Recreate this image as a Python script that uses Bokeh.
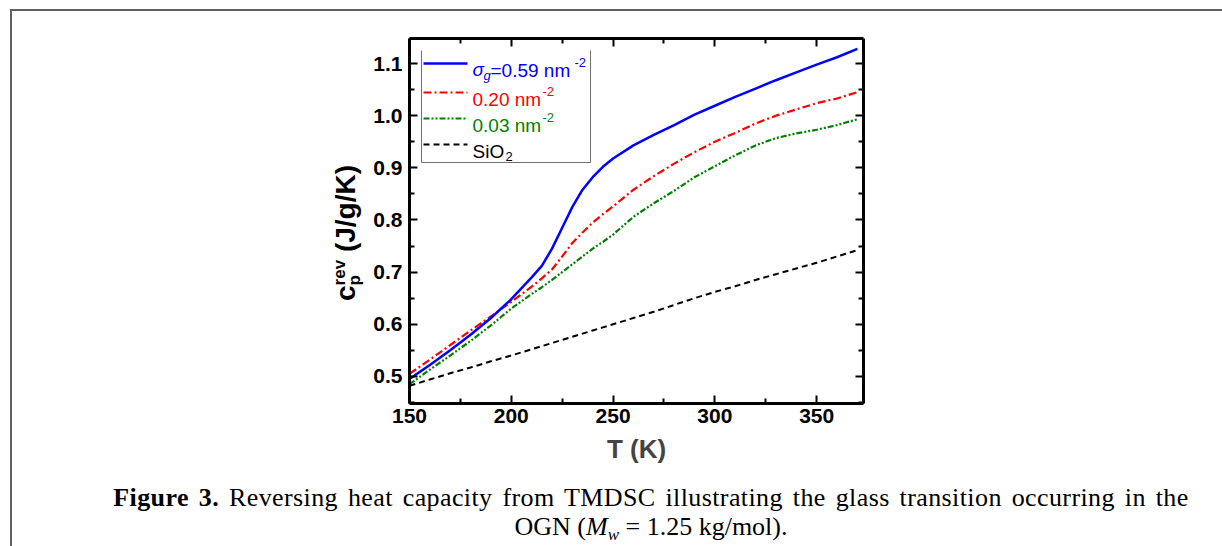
import math
from bokeh.plotting import figure
from bokeh.layouts import column, row
from bokeh.models import (Range1d, LinearAxis, Label, FixedTicker, Div,
                          PrintfTickFormatter)
from bokeh.embed import file_html
from bokeh.resources import INLINE

# ---------------- data ----------------
T = [150, 160, 170, 180, 190, 200, 210, 215, 220, 225, 230, 235, 240, 245, 250,
     260, 270, 280, 290, 300, 310, 320, 330, 340, 350, 360, 370]
cp_059 = [0.495, 0.522, 0.550, 0.580, 0.612, 0.648, 0.690, 0.712, 0.745, 0.785, 0.825,
          0.858, 0.882, 0.902, 0.918, 0.943, 0.963, 0.982, 1.002, 1.019, 1.036, 1.052,
          1.068, 1.083, 1.098, 1.112, 1.128]
cp_020 = [0.505, 0.532, 0.560, 0.588, 0.615, 0.643, 0.672, 0.688, 0.705, 0.730, 0.756,
          0.776, 0.795, 0.811, 0.826, 0.858, 0.884, 0.908, 0.930, 0.950, 0.967, 0.985,
          1.000, 1.012, 1.024, 1.033, 1.045]
cp_003 = [0.485, 0.513, 0.540, 0.568, 0.598, 0.630, 0.658, 0.671, 0.685, 0.700, 0.715,
          0.730, 0.745, 0.758, 0.772, 0.806, 0.832, 0.856, 0.882, 0.903, 0.924, 0.943,
          0.957, 0.966, 0.973, 0.982, 0.993]
cp_sio2 = [0.482, 0.494, 0.506, 0.517, 0.529, 0.540, 0.552, 0.558, 0.564, 0.570, 0.576,
           0.582, 0.588, 0.594, 0.600, 0.612, 0.624, 0.637, 0.650, 0.662, 0.673, 0.685,
           0.696, 0.707, 0.718, 0.730, 0.742]

x_ticks = [150, 200, 250, 300, 350]
x_minor = [175, 225, 275, 325, 375]
y_ticks = [0.5, 0.6, 0.7, 0.8, 0.9, 1.0, 1.1]
y_minor = [0.45, 0.55, 0.65, 0.75, 0.85, 0.95, 1.05, 1.15]

# ---------------- page geometry (pixels) ----------------
W, H = 1222, 546
LEFT_W = 366          # width of the left strip (y-axis title)
TOP_H = 20            # strip above the figure (page border line)
PLOT_H = 462          # figure height
CAP_H = H - TOP_H - PLOT_H
FL, FR, FT, FB = 409, 863, 38, 403   # frame edges in page pixels
X0, X1 = 150, 373
Y0, Y1 = 0.448, 1.148
BORDER = "2px solid #5f5f5f"


def dx(px):
    return X0 + (px - FL) / (FR - FL) * (X1 - X0)


def dy(py):
    return Y0 + (FB - py) / (FB - FT) * (Y1 - Y0)


p = figure(width=W - LEFT_W, height=PLOT_H, x_range=Range1d(X0, X1),
           y_range=Range1d(Y0, Y1), output_backend="svg", toolbar_location=None,
           min_border_left=FL - LEFT_W, min_border_right=W - FR,
           min_border_top=FT - TOP_H, min_border_bottom=TOP_H + PLOT_H - FB,
           margin=0)
p.grid.visible = False
p.outline_line_color = None
p.background_fill_color = "white"
p.border_fill_color = "white"

top_ax = LinearAxis()
right_ax = LinearAxis()
p.add_layout(top_ax, "above")
p.add_layout(right_ax, "right")
bottom_ax = p.below[0]
left_ax = p.left[0]

for ax in (bottom_ax, top_ax):
    ax.ticker = FixedTicker(ticks=x_ticks, minor_ticks=x_minor)
for ax in (left_ax, right_ax):
    ax.ticker = FixedTicker(ticks=y_ticks, minor_ticks=y_minor)
    ax.formatter = PrintfTickFormatter(format="%.1f")

for ax in (bottom_ax, top_ax, left_ax, right_ax):
    ax.axis_line_width = 3
    ax.axis_line_color = "black"
    ax.major_tick_in = 8
    ax.major_tick_out = 0
    ax.minor_tick_in = 5
    ax.minor_tick_out = 0
    ax.major_tick_line_width = 2
    ax.minor_tick_line_width = 2
    ax.major_label_text_font = "Liberation Sans"
    ax.major_label_text_font_style = "bold"
    ax.major_label_text_font_size = "21px"
    ax.major_label_text_color = "black"

bottom_ax.major_label_standoff = 5
left_ax.major_label_standoff = 7
bottom_ax.axis_label = "T (K)"
bottom_ax.axis_label_text_font = "Liberation Sans"
bottom_ax.axis_label_text_font_style = "bold"
bottom_ax.axis_label_text_font_size = "26px"
bottom_ax.axis_label_standoff = 8
for ax in (top_ax, right_ax):
    ax.major_label_text_alpha = 0
    ax.major_label_text_font_size = "2px"
    ax.major_label_standoff = 0

# ---------------- curves ----------------
p.line(T, cp_sio2, line_color="black", line_width=2, line_dash="6 4")
p.line(T, cp_003, line_color="#008000", line_width=2.2, line_dash="6 2 2 2 2 2")
p.line(T, cp_020, line_color="#ff0000", line_width=2.2, line_dash="8 3 2 3")
p.line(T, cp_059, line_color="#0000ff", line_width=2.5)

# ---------------- legend (drawn by hand) ----------------
p.line([dx(421), dx(421), dx(590), dx(590)], [dy(50), dy(162), dy(162), dy(50)],
       line_color="#707070", line_width=1)
leg = [("#0000ff", None, 2.5, 63), ("#ff0000", "8 3 2 3", 2.2, 92),
       ("#008000", "6 2 2 2 2 2", 2.2, 118), ("black", "6 4", 2, 144)]
for col, dash, lw, py in leg:
    kw = dict(line_color=col, line_width=lw)
    if dash:
        kw["line_dash"] = dash
    p.line([dx(423), dx(467)], [dy(py), dy(py)], **kw)


def lab(text, px, py, size, color="black", font="Liberation Sans", style="normal",
        align="left", baseline="alphabetic"):
    p.add_layout(Label(x=dx(px), y=dy(py), text=text, text_font=font,
                       text_font_size=f"{size}px", text_font_style=style,
                       text_color=color, text_align=align, text_baseline=baseline))


LS = 19
lab("σ", 472, 69, LS, "#0000ff", style="italic")
lab("g", 483, 75, 13, "#0000ff", style="italic")
lab("=0.59 nm", 490, 70, LS, "#0000ff")
lab("-2", 574, 62, 13, "#0000ff")
lab("0.20 nm", 472, 99, LS, "#ff0000")
lab("-2", 542, 91, 13, "#ff0000")
lab("0.03 nm", 472, 125, LS, "#008000")
lab("-2", 542, 117, 13, "#008000")
lab("SiO", 472, 151, LS, "black")
lab("2", 505, 156, 13, "black")

# ---------------- HTML strips: y title, page border, caption ----------------
left_html = f"""
<div style="position:relative;width:{LEFT_W}px;height:{TOP_H + PLOT_H}px;">
 <div style="position:absolute;left:10px;top:9px;width:{LEFT_W}px;height:0;border-top:{BORDER};"></div>
 <div style="position:absolute;left:10px;top:9px;width:0;height:{TOP_H + PLOT_H}px;border-left:{BORDER};"></div>
 <div style="position:absolute;left:330px;top:301px;transform-origin:0 0;transform:rotate(-90deg);
      white-space:nowrap;font-family:'Liberation Sans';font-weight:bold;font-size:28px;
      line-height:32px;color:black;">c<span style="display:inline-block;vertical-align:-5px;
      font-size:17px;line-height:15px;text-align:left;">rev<br>p</span> (J/g/K)</div>
</div>"""
left_div = Div(text=left_html, width=LEFT_W, height=TOP_H + PLOT_H, margin=0)

top_html = f"""
<div style="position:relative;width:{W - LEFT_W}px;height:{TOP_H}px;">
 <div style="position:absolute;left:0;top:9px;width:{W - LEFT_W}px;height:0;border-top:{BORDER};"></div>
</div>"""
top_div = Div(text=top_html, width=W - LEFT_W, height=TOP_H, margin=0)

CAP_STYLE = ("position:absolute;left:80px;width:1142px;text-align:center;white-space:nowrap;"
             "font-family:'Liberation Serif';font-size:26px;line-height:29px;color:black;")
cap_html = f"""
<div style="position:relative;width:{W}px;height:{CAP_H}px;">
 <div style="position:absolute;left:10px;top:0;width:0;height:{CAP_H}px;border-left:{BORDER};"></div>
 <div style="{CAP_STYLE}top:1px;letter-spacing:0.4px;word-spacing:3px;"><b>Figure 3.</b> Reversing heat capacity from TMDSC illustrating the glass transition occurring in the</div>
 <div style="{CAP_STYLE}top:30px;">OGN (<i>M<span style="font-size:17px;position:relative;top:5px;">w</span></i> = 1.25 kg/mol).</div>
</div>"""
cap_div = Div(text=cap_html, width=W, height=CAP_H, margin=0)

layout = column(row(left_div, column(top_div, p, spacing=0, margin=0), spacing=0, margin=0),
                cap_div, spacing=0, margin=0)

open("out.html", "w").write(file_html(layout, INLINE))
